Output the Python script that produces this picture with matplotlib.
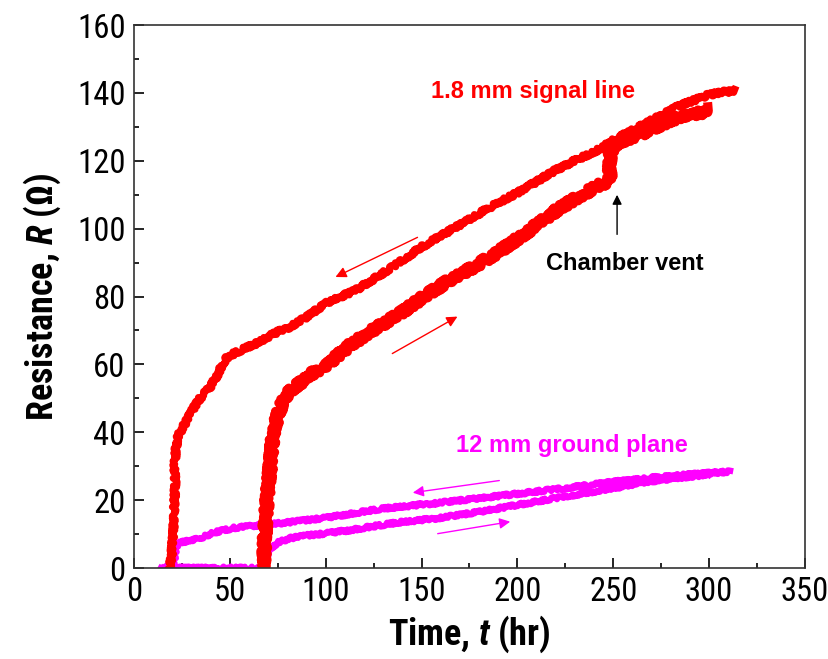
import os
import matplotlib
matplotlib.use('Agg')
import matplotlib.pyplot as plt
from matplotlib.ticker import MultipleLocator
from matplotlib import font_manager as fm

# 1.8 mm signal line, pump-down (rising) and vent/return (upper) branches
sig_up_t = [67, 67.5, 68.3, 69.3, 71, 72.6, 75, 77.9, 82, 86.6, 92, 98.6, 105, 112.7,
            124.7, 138.8, 150.8, 165, 175, 185.7, 195, 205, 220.6, 232, 244.7, 248.5,
            248, 249, 252, 260, 269, 276, 283, 290, 297, 300]
sig_up_R = [0, 1.5, 10.3, 20, 29.8, 39.7, 45, 49.5, 52.5, 54.5, 57, 59.2, 62, 65.7,
            70.1, 75, 79.8, 85, 88, 91.6, 95, 99, 105.5, 109.5, 113.4, 114,
            118, 123.5, 125.2, 127, 129, 131, 132.6, 133.5, 134.4, 135]

sig_dn_t = [18.5, 19.5, 20.5, 21, 21.5, 21.2, 21.8, 22.5, 24, 27, 30, 33, 36, 40, 44,
            46, 48.5, 53, 59, 65, 72.5, 81, 90, 100, 116, 133, 150, 168, 186, 203,
            220, 232, 242, 252, 262, 272, 283, 292, 299, 306, 313.5]
sig_dn_R = [0, 3, 10, 18, 25, 30, 35, 38, 40, 43, 46, 49, 51, 53.5, 57.5,
            60, 62, 63.5, 65, 66.5, 69, 71, 74, 78, 82, 88, 94.6, 100.5, 106.4, 111.5,
            117.3, 120.6, 123.2, 126.7, 129.5, 132.5, 135.8, 137.8, 139.3, 140.2, 140.5]

# 12 mm ground plane
gnd_up_t = [15, 30, 50, 66, 68, 69, 70, 72, 75, 81.4, 90, 100, 112.7, 128, 138.8,
            157, 180.5, 200, 224, 250, 265, 280, 300]
gnd_up_R = [0, 0, 0, 0, 1, 3, 5, 6.2, 7.5, 8.8, 9.6, 10.2, 11.2, 12.6, 13.5,
            14.6, 16.6, 18.6, 21, 23.5, 25.2, 26.3, 27.6]

gnd_dn_t = [14, 20, 21.5, 22, 23, 25, 30, 34.4, 42, 51.6, 65, 77.7, 100, 128,
            155, 180.5, 200, 224, 250, 270, 290, 311]
gnd_dn_R = [0, 0.5, 3, 6, 7.2, 7.6, 8.2, 8.8, 10.5, 11.8, 12.6, 13.3, 14.8, 17.4,
            19, 20.6, 21.9, 23.5, 25.4, 26.6, 27.6, 28.4]

RED = '#ff0000'
MAG = '#ff00ff'

plt.rcParams['mathtext.fontset'] = 'custom'
plt.rcParams['mathtext.rm'] = 'Roboto Condensed:bold'
plt.rcParams['mathtext.it'] = 'Roboto Condensed:italic:bold'
plt.rcParams['mathtext.bf'] = 'Roboto Condensed:bold'


def find_font(keys):
    # first installed file whose name contains one of the keys
    files = fm.findSystemFonts()
    for k in keys:
        for f in files:
            if k.lower() in os.path.basename(f).lower():
                return f
    return None


reg_file = find_font(['RobotoCondensed-Regular', 'DejaVuSansCondensed.ttf'])
bold_file = find_font(['RobotoCondensed-Bold.', 'DejaVuSansCondensed-Bold.'])
tick_fp = fm.FontProperties(fname=reg_file, size=23.5) if reg_file else fm.FontProperties(size=22)
lab_fp = fm.FontProperties(fname=bold_file, size=26) if bold_file else fm.FontProperties(size=24, weight='bold')

fig = plt.figure(figsize=(8.29, 6.59), dpi=100)
ax = fig.add_axes([0.1616, 0.138, 0.8094, 0.824])

l1, = ax.plot(gnd_up_t, gnd_up_R, color=MAG, lw=4.5)
l2, = ax.plot(gnd_dn_t, gnd_dn_R, color=MAG, lw=4.5)
l3, = ax.plot(sig_up_t, sig_up_R, color=RED, lw=6.5)
l4, = ax.plot(sig_dn_t, sig_dn_R, color=RED, lw=5)
# measurement noise look
l1.set_sketch_params(scale=1.5, length=3, randomness=4)
l2.set_sketch_params(scale=1.5, length=3, randomness=4)
l3.set_sketch_params(scale=3.5, length=2.5, randomness=4)
l4.set_sketch_params(scale=2, length=3, randomness=4)

# direction arrows
arr = dict(arrowstyle='-|>', lw=1.0, mutation_scale=16)
ax.annotate('', xy=(103.8, 85.4), xytext=(149.2, 97.8), arrowprops=dict(color=RED, **arr))
ax.annotate('', xy=(170, 74.5), xytext=(133.5, 62.8), arrowprops=dict(color=RED, **arr))
ax.annotate('', xy=(144, 22.1), xytext=(192, 25.9), arrowprops=dict(color=MAG, **arr))
ax.annotate('', xy=(197.7, 13.8), xytext=(157, 10), arrowprops=dict(color=MAG, **arr))
ax.annotate('', xy=(252, 110.8), xytext=(252, 97.5),
            arrowprops=dict(color='black', arrowstyle='-|>', lw=1.0, mutation_scale=14))

txt = dict(fontsize=17, fontweight='bold', family='Liberation Sans',
           ha='center', va='baseline')
ax.text(208, 138.5, '1.8 mm signal line', color=RED, **txt)
ax.text(228.5, 34.2, '12 mm ground plane', color=MAG, **txt)
ax.text(256, 87.8, 'Chamber vent', color='black', **txt)

ax.set_xlim(0, 350)
ax.set_ylim(0, 160)
ax.xaxis.set_major_locator(MultipleLocator(50))
ax.xaxis.set_minor_locator(MultipleLocator(25))
ax.yaxis.set_major_locator(MultipleLocator(20))
ax.yaxis.set_minor_locator(MultipleLocator(10))
ax.tick_params(which='both', direction='in', top=False, right=False, width=1.2)
ax.tick_params(which='major', length=7, pad=6)
ax.tick_params(which='minor', length=3.5)
for lab in ax.get_xticklabels() + ax.get_yticklabels():
    lab.set_fontproperties(tick_fp)
for s in ax.spines.values():
    s.set_linewidth(1.2)
    s.set_color('#333333')

ax.set_xlabel('Time, $\\mathit{t}$ (hr)', fontproperties=lab_fp, labelpad=4)
ax.set_ylabel('Resistance, $\\mathit{R}$ ($\\mathbf{\\Omega}$)',
              fontproperties=lab_fp, labelpad=10)

fig.savefig('out.png', dpi=100)
